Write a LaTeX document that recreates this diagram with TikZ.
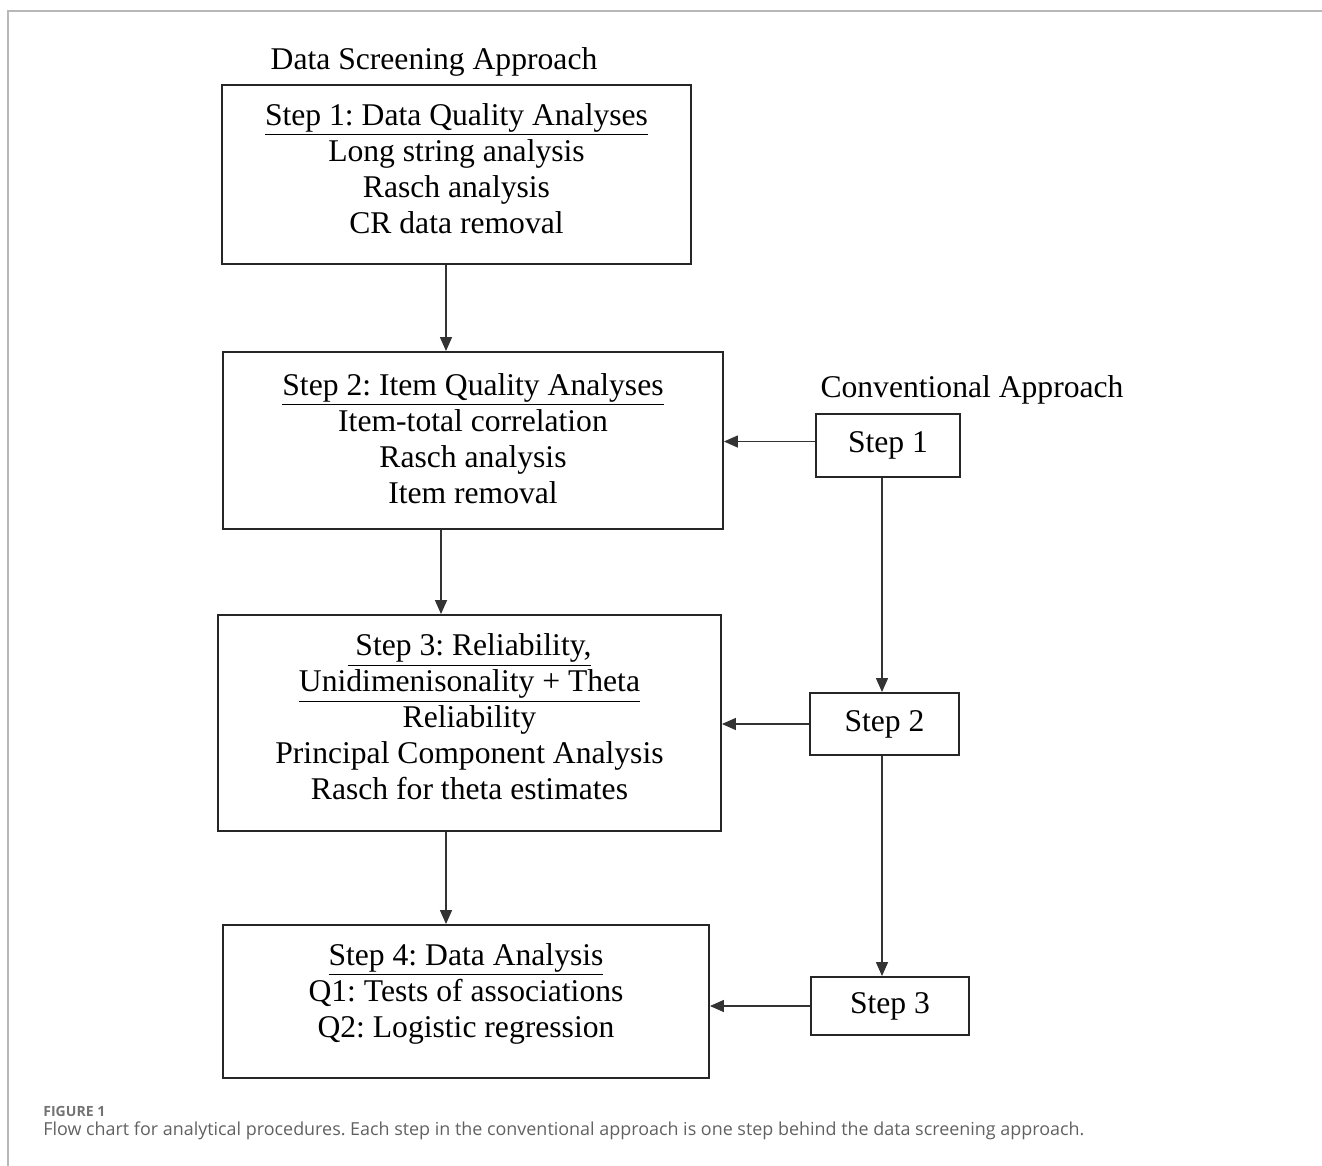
\documentclass[tikz,border=0pt]{standalone}
\usepackage{fontspec}
\setmainfont{Liberation Serif}
\newfontfamily\capfont{Open Sans}
\usepackage{tikz}
\usetikzlibrary{arrows.meta}
\frenchspacing

\tikzset{
  bigbox/.style={draw=black!85, line width=1.1pt, inner sep=0pt},
  boxtext/.style={align=center, inner sep=0pt, font=\fontsize{18}{20.5}\selectfont},
  smallbox/.style={draw=black!85, line width=1.1pt, inner sep=0pt,
    font=\fontsize{18}{20.5}\selectfont},
  heading/.style={font=\fontsize{18}{20.5}\selectfont},
  arr/.style={-{Triangle[length=0.28cm,width=0.24cm]}, draw=black!80, line width=0.8pt},
}

\begin{document}
\begin{tikzpicture}[x=0.02cm, y=-0.02cm]
  \useasboundingbox (0,0) rectangle (1322,1166);
  % frame
  \draw[black!28, line width=1.1pt] (1322,11) -- (8,11) -- (8,1166);

  % data screening column
  \node[heading] (dsa) at (434,62) {Data Screening Approach};
  \node[bigbox, minimum width=9.38cm, minimum height=3.58cm] (b1) at (456.5,174.5) {};
  \node[boxtext] (t1) at ([yshift=0.12cm]b1.center)
    {\underline{Step 1: Data Quality Analyses}\\ Long string analysis\\ Rasch analysis\\ CR data removal};
  \node[bigbox, minimum width=10cm, minimum height=3.54cm] (b2) at (473,440.5) {};
  \node[boxtext] (t2) at ([yshift=0.04cm]b2.center)
    {\underline{Step 2: Item Quality Analyses}\\ Item-total correlation\\ Rasch analysis\\ Item removal};
  \node[bigbox, minimum width=10.06cm, minimum height=4.32cm] (b3) at (469.5,723) {};
  \node[boxtext] (t3) at ([yshift=0.12cm]b3.center)
    {\underline{\ Step 3: Reliability,}\\ \underline{Unidimenisonality + Theta}\\ Reliability\\ Principal Component Analysis\\ Rasch for theta estimates};
  \node[bigbox, minimum width=9.72cm, minimum height=3.06cm] (b4) at (466,1001.5) {};
  \node[boxtext] (t4) at ([yshift=0.16cm]b4.center)
    {\underline{Step 4: Data Analysis}\\ Q1: Tests of associations\\ Q2: Logistic regression};

  % conventional column
  \node[heading] (ca) at (972,390) {Conventional Approach};
  \node[smallbox, minimum width=2.88cm, minimum height=1.26cm] (s1) at (888,445.5) {Step 1};
  \node[smallbox, minimum width=2.98cm, minimum height=1.24cm] (s2) at (884.5,724) {Step 2};
  \node[smallbox, minimum width=3.16cm, minimum height=1.16cm] (s3) at (890,1006) {Step 3};

  % columns of the arrows
  \coordinate (c1) at (446,0);
  \coordinate (c2) at (441,0);
  \coordinate (c3) at (446,0);
  \coordinate (c4) at (882,0);
  \coordinate (r1) at ([yshift=0.08cm]s1.west);

  \draw[arr] (b1.south -| c1) -- (b2.north -| c1);
  \draw[arr] (b2.south -| c2) -- (b3.north -| c2);
  \draw[arr] (b3.south -| c3) -- (b4.north -| c3);

  \draw[arr] (s1.south -| c4) -- (s2.north -| c4);
  \draw[arr] (s2.south -| c4) -- (s3.north -| c4);

  \draw[arr] (r1) -- (b2.east |- r1);
  \draw[arr] (s2.west) -- (b3.east |- s2.west);
  \draw[arr] (s3.west) -- (b4.east |- s3.west);

  % caption
  \node[anchor=west, inner sep=0pt, text=black!55, font=\capfont\bfseries\fontsize{8}{9}\selectfont] (fig) at (43,1111) {FIGURE 1};
  \node[anchor=west, inner sep=0pt, text=black!62, font=\capfont\fontsize{10.2}{12}\selectfont] (cap) at (43,1131)
    {Flow chart for analytical procedures. Each step in the conventional approach is one step behind the data screening approach.};
\end{tikzpicture}
\end{document}
